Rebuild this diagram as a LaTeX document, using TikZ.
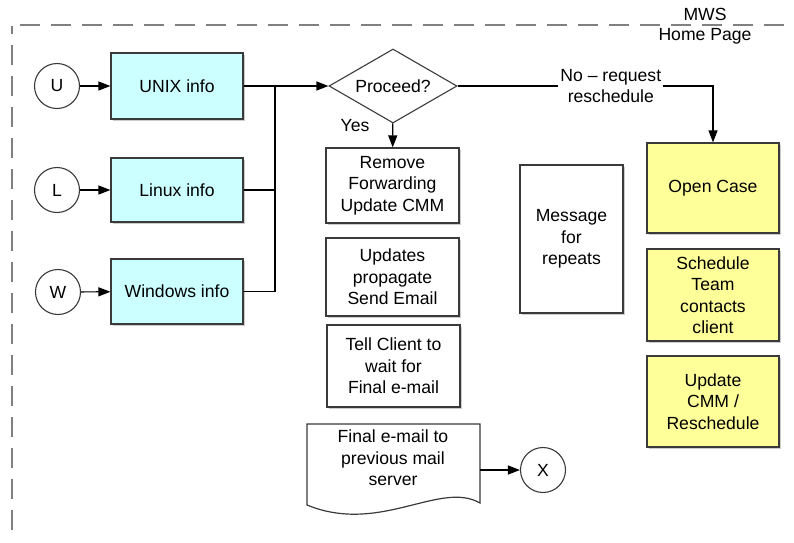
\documentclass[tikz,border=0pt]{standalone}
\usepackage{fontspec}
\setmainfont{Liberation Sans}
\usetikzlibrary{arrows.meta,shapes.geometric,shadows}
\definecolor{infocyan}{HTML}{CCFFFF}
\definecolor{caseyellow}{HTML}{FFFF99}
\definecolor{edgegray}{HTML}{3A3A3A}
\definecolor{framegray}{HTML}{808080}
\begin{document}
\begin{tikzpicture}[
  x=1pt,y=-1pt,
  font=\fontsize{17.6}{21.5}\selectfont,
  box/.style={draw=edgegray, fill=white, line width=1.2pt, align=center, inner sep=0pt,
    drop shadow={shadow xshift=1.5pt, shadow yshift=-1.5pt, fill=black!40, opacity=.5}},
  term/.style={draw=edgegray, fill=white, circle, line width=1.1pt, minimum size=45pt, inner sep=0pt},
  arrow/.style={-{Triangle[length=12pt,width=9pt]}, line width=1.2pt}
]
\useasboundingbox (0,0) rectangle (794,542);

% frame of the page
\draw[framegray, line width=2pt, dash pattern=on 20pt off 11pt] (12,530) -- (12,26);
\draw[framegray, line width=2pt, dash pattern=on 20pt off 11pt] (20,25) -- (794,25);
\node (mws) at (705,14) {MWS};
\node (home) at (705,36) {Home Page};

% sources
\node[term] (U) at (57,86) {U};
\node[term] (L) at (57,190) {L};
\node[term] (W) at (58,292) {W};
\node[box, fill=infocyan, minimum width=132pt, minimum height=66pt] (unix) at (177,86) {UNIX info};
\node[box, fill=infocyan, minimum width=132pt, minimum height=64pt] (linux) at (177,190) {Linux info};
\node[box, fill=infocyan, minimum width=132pt, minimum height=65pt] (windows) at (177,291.5) {Windows info};

\draw[arrow] (U) -- (unix);
\draw[arrow] (L) -- (linux);
\draw[arrow] (W) -- (windows);

% decision
\node[draw=edgegray, line width=1.1pt, diamond, aspect=1.73, inner sep=0pt,
  minimum width=128pt, minimum height=74pt] (proceed) at (393,86) {Proceed?};
\coordinate (join) at (275,86);
\draw[arrow] (unix) -- (join) -- (proceed);
\draw[line width=1.2pt] (linux.east) -- (linux.east -| join) -- (join);
\draw[line width=1.2pt] (windows.east) -- (windows.east -| join) -- (join);

% yes branch
\node[box, minimum width=133pt, minimum height=75pt] (remove) at (392.5,185.5) {Remove\\Forwarding\\Update CMM};
\node[box, minimum width=133pt, minimum height=78pt] (updates) at (392.5,277) {Updates\\propagate\\Send Email};
\node[box, minimum width=133pt, minimum height=82pt] (tell) at (393.5,366) {Tell Client to\\wait for\\Final e-mail};
\draw[arrow] (proceed) -- (remove);
\node (yes) at (355,126) {Yes};

% final e-mail document
\draw[draw=edgegray, fill=white, line width=1.2pt] (307,424) -- (480,424) -- (480,503)
  .. controls (440,480) and (380,535) .. (307,505) -- cycle;
\node[align=center] (final) at (393,458) {Final e-mail to\\previous mail\\server};
\coordinate (finalout) at (480,470);
\node[term] (X) at (543,470) {X};
\draw[arrow] (finalout) -- (X);

\node[box, minimum width=103pt, minimum height=148pt] (msg) at (571.5,239) {Message\\for\\repeats};

% no branch
\node[box, fill=caseyellow, minimum width=132pt, minimum height=90pt] (open) at (713,188) {Open Case};
\node[box, fill=caseyellow, minimum width=132pt, minimum height=92pt] (sched) at (713,295) {Schedule\\Team\\contacts\\client};
\node[box, fill=caseyellow, minimum width=132pt, minimum height=91pt] (upd) at (713,401.5) {Update\\CMM /\\Reschedule};
\draw[arrow] (proceed) -- node[pos=0.6, fill=white, align=center, inner sep=2pt] (nolabel) {No – request\\reschedule}
  (open.north |- proceed) -- (open);
\end{tikzpicture}
\end{document}
